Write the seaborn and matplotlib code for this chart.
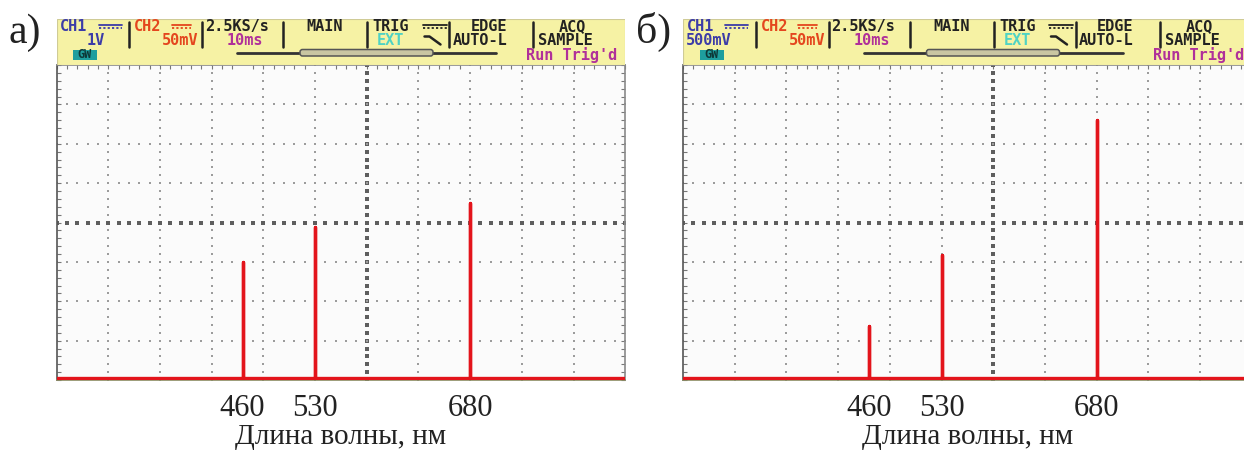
import numpy as np
import pandas as pd
import matplotlib.pyplot as plt
import seaborn as sns
from matplotlib.patches import FancyBboxPatch, Rectangle
from matplotlib.ticker import MultipleLocator

# spectral lines seen on the scope, nm
wavelengths = [460, 530, 680]
# line amplitudes (50 mV/div), mV
peaks_a = [150, 194, 225]
peaks_b = [69, 159, 330]
noise_floor = 3
panel_labels = ['а)', 'б)']
ch1_scale = ['1V', '500mV']
xlabel = 'Длина волны, нм'

# scope screen scale
nm_per_div = 50
mv_per_div = 50
x_left = 280
n_xdiv, n_ydiv = 11, 8
x_right = x_left + n_xdiv * nm_per_div
y_top = n_ydiv * mv_per_div

FW, FH = 1244, 454
SCR_W, SCR_TOP, SCR_BOT = 568.7, 65, 380
HDR_TOP = 19

sns.set_style('white')
plt.rcParams['font.family'] = ['DejaVu Sans']

RED = '#e3141b'
BLUE = '#3c3ca8'
CH2C = '#e4461e'
MAG = '#b0309a'
CYAN = '#4fd3c4'
INK = '#222222'
mono = dict(family='DejaVu Sans Mono', fontweight='bold', fontsize=11)
serif = 'Liberation Serif'


def trace_frame(peaks):
    rows = [(x_left, noise_floor)]
    for w, h in zip(wavelengths, peaks):
        rows += [(w, noise_floor), (w, h), (w, noise_floor)]
    rows.append((x_right, noise_floor))
    return pd.DataFrame(rows, columns=['nm', 'mV'])


def dc_symbol(ax, x0, x1, y, color):
    ax.plot([x0, x1], [y - 2, y - 2], color=color, lw=1.3)
    ax.plot([x0, x1], [y + 1.5, y + 1.5], color=color, lw=1.3, ls=(0, (1.2, 1.2)))


def draw_screen(fig, x0, peaks):
    ax = fig.add_axes([x0 / FW, 1 - SCR_BOT / FH, SCR_W / FW, (SCR_BOT - SCR_TOP) / FH])
    ax.set_facecolor('#fbfbfb')
    ax.set_xlim(x_left, x_right)
    ax.set_ylim(0, y_top)

    # dotted graticule
    xc = x_left + 6 * nm_per_div
    yc = 4 * mv_per_div
    ys = np.arange(0, y_top + 1, mv_per_div / 5)
    xs = np.arange(x_left, x_right + 1, nm_per_div / 5)
    for k in range(1, n_xdiv):
        xg = x_left + k * nm_per_div
        big = xg == xc
        ax.scatter(np.full_like(ys, xg), ys, s=10 if big else 2.8, marker='s', lw=0,
                   color='#5e5e5e' if big else '#9c9c9c', zorder=1)
    for k in range(1, n_ydiv):
        yg = k * mv_per_div
        big = yg == yc
        ax.scatter(xs, np.full_like(xs, yg), s=10 if big else 2.8, marker='s', lw=0,
                   color='#5e5e5e' if big else '#9c9c9c', zorder=1)

    sns.lineplot(data=trace_frame(peaks), x='nm', y='mV', estimator=None, sort=False,
                 color=RED, lw=2.4, ax=ax, zorder=3)

    ax.set_xticks(wavelengths)
    ax.set_xticklabels([str(w) for w in wavelengths], family=serif, fontsize=22)
    ax.set_yticks([])
    ax.xaxis.set_minor_locator(MultipleLocator(nm_per_div / 5))
    ax.yaxis.set_minor_locator(MultipleLocator(mv_per_div / 5))
    ax.tick_params(axis='x', which='major', length=0, pad=10, colors=INK)
    ax.tick_params(which='minor', direction='in', length=3, width=0.8, color='#777777',
                   top=True, bottom=False, left=True, right=True)
    ax.set_xlabel(xlabel, family=serif, fontsize=21, labelpad=1, color=INK)
    ax.set_ylabel('')
    for side, sp in ax.spines.items():
        sp.set_visible(True)
        sp.set_linewidth(1.2)
        sp.set_color('#8a8a8a')
    ax.spines['left'].set_color('#555555')
    ax.spines['bottom'].set_color('#8c8c62')
    return ax


def draw_header(fig, x0, ch1):
    hx = fig.add_axes([x0 / FW, 1 - SCR_TOP / FH, SCR_W / FW, (SCR_TOP - HDR_TOP) / FH])
    h = SCR_TOP - HDR_TOP
    hx.set_xlim(0, SCR_W)
    hx.set_ylim(h, 0)
    hx.axis('off')
    hx.add_patch(Rectangle((0, 0), SCR_W, h, facecolor='#f6f2a4', edgecolor='#cfcb96', lw=0.8))

    r1, r2, r3 = 7.5, 21.5, 35.8
    txt = lambda x, y, s, c, ha='left': hx.text(x, y, s, color=c, ha=ha, va='center', **mono)

    txt(3.5, r1, 'CH1', BLUE)
    dc_symbol(hx, 42, 65, r1, BLUE)
    txt(48.5, r2, ch1, BLUE, 'right')
    hx.add_patch(Rectangle((16.5, 31), 24, 9.5, facecolor='#1e9e9e', edgecolor='none'))
    hx.text(28.5, 36, 'GW', color='#0d3838', ha='center', va='center',
            family='DejaVu Sans Mono', fontweight='bold', fontsize=8.5)

    txt(77.5, r1, 'CH2', CH2C)
    dc_symbol(hx, 115, 134, r1, CH2C)
    txt(142, r2, '50mV', CH2C, 'right')

    txt(148.5, r1, '2.5KS/s', INK)
    txt(207, r2, '10ms', MAG, 'right')

    txt(268.5, r1, 'MAIN', INK, 'center')

    txt(316, r1, 'TRIG', INK)
    dc_symbol(hx, 366, 390, r1, INK)
    txt(320.5, r2, 'EXT', CYAN)
    hx.plot([368, 373, 384], [r2 - 4, r2 - 4, r2 + 4], color=INK, lw=1.8)

    txt(432, r1, 'EDGE', INK, 'center')
    txt(396, r2, 'AUTO-L', INK)

    txt(516, r1, 'ACQ', INK, 'center')
    txt(481.5, r2, 'SAMPLE', INK)

    for xs in [72.5, 145.5, 226.5, 310.5, 392.5, 476.5]:
        hx.plot([xs, xs], [2.5, 28], color=INK, lw=1.8)

    # memory position bar
    hx.plot([180.5, 439.5], [33.7, 33.7], color='#333333', lw=2)
    hx.add_patch(FancyBboxPatch((244, 31), 132, 5.5, boxstyle='round,pad=0.5,rounding_size=2.5',
                                facecolor='#c9c6a2', edgecolor='#555555', lw=1.1, zorder=3))
    txt(561, r3, "Run Trig'd", MAG, 'right')


fig = plt.figure(figsize=(FW / 100, FH / 100), dpi=100)
fig.patch.set_facecolor('white')

for x0, peaks, ch1, lab, lx in [(56.5, peaks_a, ch1_scale[0], panel_labels[0], 8),
                                 (683, peaks_b, ch1_scale[1], panel_labels[1], 636)]:
    draw_screen(fig, x0, peaks)
    draw_header(fig, x0, ch1)
    fig.text(lx / FW, 1 - 43 / FH, lab, family=serif, fontsize=30, va='baseline', color=INK)

fig.savefig('out.png', dpi=100)
plt.close(fig)
